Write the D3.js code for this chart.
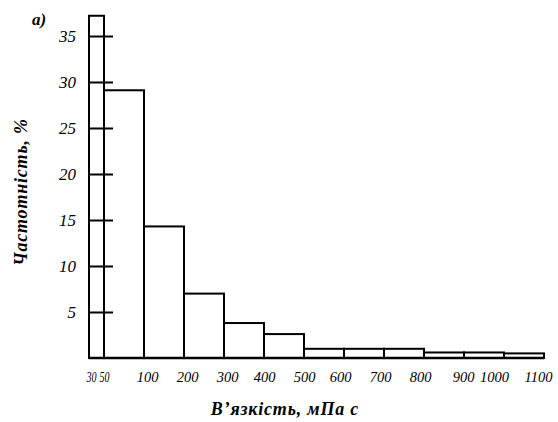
<!DOCTYPE html>
<html>
<head>
<meta charset="utf-8">
<script src="https://cdn.jsdelivr.net/npm/d3@7"></script>
<style>
  html, body { margin: 0; padding: 0; background: #fff; }
  svg { display: block; }
  text { font-family: "Liberation Serif", "DejaVu Serif", serif; font-style: italic; fill: #000; }
</style>
</head>
<body>
<svg id="chart" width="558" height="422"></svg>
<script>
// Bin edges (viscosity, mPa·s) and frequencies (%)
const binEdges = [30, 50, 100, 200, 300, 400, 500, 600, 700, 800, 900, 1000, 1100];
const frequencies = [37.2, 29.1, 14.3, 7.0, 3.8, 2.6, 1.0, 1.0, 1.0, 0.6, 0.6, 0.5];
const yTicks = [5, 10, 15, 20, 25, 30, 35];
const xTickLabels = ["30", "50", "100", "200", "300", "400", "500", "600", "700", "800", "900", "1000", "1100"];
const yTitle = "Частотність, %";
const xTitle = "В’язкість, мПа с";
const panelLabel = "а)";

(function () {
const svg = d3.select("#chart");
const mLeft = 89, mRight = 544, mTop = 36, mBottom = 358;

// Non-uniform axis: first bin (30–50) is narrow, all others equal width.
const edgeIndex = binEdges.map((v, i) => i === 0 ? -0.375 : i - 1);
const xIdx = d3.scaleLinear().domain([edgeIndex[0], edgeIndex[edgeIndex.length - 1]]).range([mLeft, mRight]);
const x = d3.scaleLinear().domain(binEdges).range(edgeIndex.map(xIdx));
const y = d3.scaleLinear().domain([0, 35]).range([mBottom, mTop]);

const bins = frequencies.map((f, i) => ({ x0: binEdges[i], x1: binEdges[i + 1], f }));

// Bars
svg.append("g").selectAll("rect").data(bins).join("rect")
  .attr("x", d => x(d.x0))
  .attr("y", d => y(d.f))
  .attr("width", d => x(d.x1) - x(d.x0))
  .attr("height", d => y(0) - y(d.f))
  .attr("fill", "#fff")
  .attr("stroke", "#000")
  .attr("stroke-width", 2);

// Baseline
svg.append("line")
  .attr("x1", x(binEdges[0])).attr("x2", x(binEdges[binEdges.length - 1]))
  .attr("y1", y(0)).attr("y2", y(0))
  .attr("stroke", "#000").attr("stroke-width", 2.5);

// Y axis ticks (inward) and labels
const yAxis = d3.axisRight(y).tickValues(yTicks).tickSize(24).tickFormat(d3.format("d"));
const gy = svg.append("g").attr("transform", `translate(${x(binEdges[0])},0)`).call(yAxis);
gy.select(".domain").remove();
gy.selectAll(".tick line").attr("stroke", "#000").attr("stroke-width", 2);
gy.selectAll(".tick text")
  .attr("x", -13).attr("dx", 0).attr("dy", "0.35em")
  .attr("text-anchor", "end")
  .style("font-size", "17px")
  .style("font-family", "'Liberation Serif', serif")
  .style("font-style", "italic");

// X axis labels (hand-set label nudges, as in the printed figure)
const labelShift = [0, 0, 3, 3, 3, 0, 0, -4, -4, -4, -1, -10, -6];
const xAxis = d3.axisBottom(x).tickValues(binEdges).tickSize(0)
  .tickFormat((d, i) => xTickLabels[i]);
const gx = svg.append("g").attr("transform", `translate(0,${y(0)})`).call(xAxis);
gx.select(".domain").remove();
gx.selectAll(".tick text")
  .attr("y", 24).attr("dy", 0)
  .attr("dx", (d, i) => labelShift[i])
  .attr("text-anchor", "middle")
  .style("font-size", "14.5px")
  .style("font-family", "'Liberation Serif', serif")
  .style("font-style", "italic");
// first two labels are squeezed together
gx.selectAll(".tick text").filter((d, i) => i < 2)
  .attr("text-anchor", (d, i) => i === 0 ? "start" : "end")
  .attr("dx", (d, i) => i === 0 ? -3 : 5)
  .attr("textLength", 10)
  .attr("lengthAdjust", "spacingAndGlyphs");

// Axis titles
svg.append("text")
  .attr("transform", `translate(27,192) rotate(-90)`)
  .attr("text-anchor", "middle")
  .style("font-size", "18px").style("font-weight", "bold")
  .style("letter-spacing", "0.8px")
  .text(yTitle);

svg.append("text")
  .attr("x", 285).attr("y", 415)
  .attr("text-anchor", "middle")
  .style("font-size", "18px").style("font-weight", "bold")
  .style("letter-spacing", "0.8px")
  .text(xTitle);

svg.append("text")
  .attr("x", 32).attr("y", 25)
  .style("font-size", "17px").style("font-weight", "bold")
  .text(panelLabel);
})();
</script>
</body>
</html>
